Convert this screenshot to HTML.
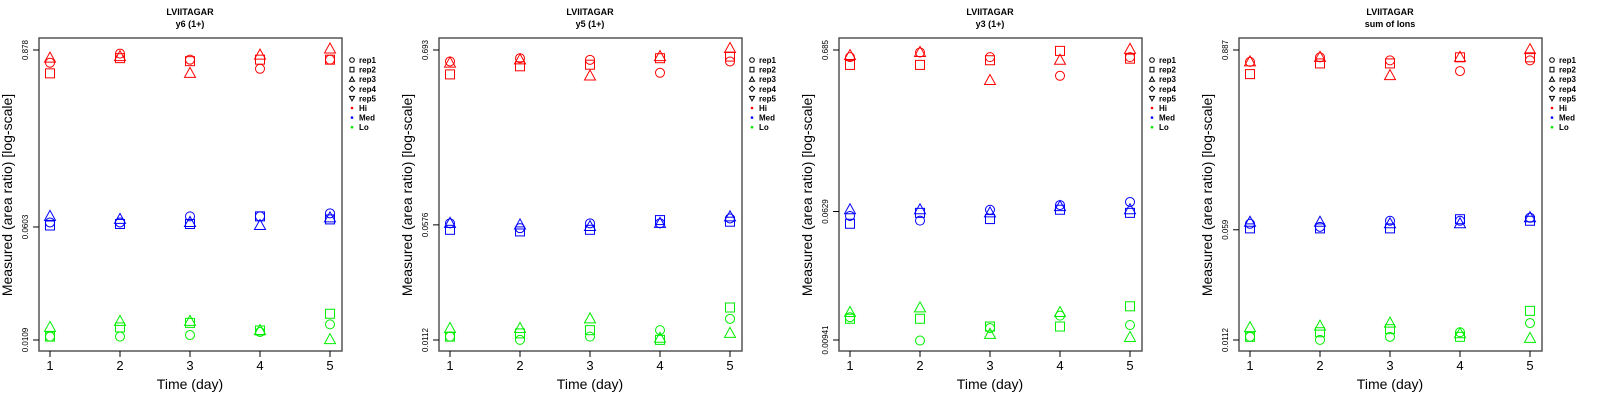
<!DOCTYPE html>
<html><head><meta charset="utf-8"><style>
html,body{margin:0;padding:0;background:#fff;}
svg{display:block;font-family:"Liberation Sans",sans-serif;}
</style></head><body>
<svg id="chart" width="1600" height="400" viewBox="0 0 1600 400" xmlns="http://www.w3.org/2000/svg"></svg>
<script>
// Data: log10 of measured area ratio, per panel, per level, per replicate, days 1..5
const days = [1, 2, 3, 4, 5];
const panelTitles = ["y6 (1+)", "y5 (1+)", "y3 (1+)", "sum of Ions"];
const peptide = "LVIITAGAR";
const tickLabels = [["0.878","0.0603","0.0109"],["0.693","0.0576","0.0112"],["0.685","0.0629","0.00941"],["0.887","0.059","0.0112"]];
const tickValues = [[0.878,0.0603,0.0109],[0.693,0.0576,0.0112],[0.685,0.0629,0.00941],[0.887,0.059,0.0112]];
const levels = ["Hi","Med","Lo"];
const reps = ["rep1","rep2","rep3","rep4","rep5"];
// panel 1
const p1Hi = [[-0.14,-0.08,-0.12,-0.18,-0.12],[-0.21,-0.11,-0.13,-0.12,-0.12],[-0.11,-0.10,-0.21,-0.09,-0.05]];
const p1Med = [[-1.19,-1.19,-1.15,-1.15,-1.13],[-1.21,-1.20,-1.20,-1.15,-1.17],[-1.15,-1.17,-1.19,-1.21,-1.16]];
const p1Lo = [[-1.94,-1.94,-1.93,-1.91,-1.86],[-1.94,-1.88,-1.85,-1.90,-1.79],[-1.88,-1.84,-1.84,-1.90,-1.96]];
// panel 2
const p2Hi = [[-0.23,-0.21,-0.22,-0.30,-0.23],[-0.31,-0.26,-0.25,-0.21,-0.20],[-0.24,-0.22,-0.32,-0.20,-0.15]];
const p2Med = [[-1.23,-1.26,-1.23,-1.23,-1.20],[-1.27,-1.28,-1.27,-1.21,-1.22],[-1.23,-1.24,-1.25,-1.23,-1.19]];
const p2Lo = [[-1.93,-1.95,-1.93,-1.89,-1.82],[-1.93,-1.91,-1.89,-1.95,-1.75],[-1.88,-1.88,-1.82,-1.94,-1.91]];
// panel 3
const p3Hi = [[-0.21,-0.18,-0.21,-0.33,-0.21],[-0.26,-0.26,-0.23,-0.17,-0.22],[-0.20,-0.18,-0.36,-0.23,-0.16]];
const p3Med = [[-1.23,-1.26,-1.19,-1.16,-1.14],[-1.28,-1.21,-1.25,-1.19,-1.21],[-1.19,-1.19,-1.21,-1.17,-1.19]];
const p3Lo = [[-1.88,-2.03,-1.95,-1.87,-1.93],[-1.89,-1.89,-1.94,-1.94,-1.81],[-1.85,-1.82,-1.99,-1.85,-2.01]];
// panel 4
const p4Hi = [[-0.13,-0.10,-0.12,-0.19,-0.12],[-0.21,-0.14,-0.14,-0.10,-0.10],[-0.13,-0.10,-0.22,-0.10,-0.05]];
const p4Med = [[-1.19,-1.21,-1.17,-1.17,-1.15],[-1.22,-1.22,-1.22,-1.16,-1.17],[-1.18,-1.18,-1.19,-1.19,-1.15]];
const p4Lo = [[-1.93,-1.95,-1.93,-1.90,-1.84],[-1.93,-1.90,-1.88,-1.93,-1.76],[-1.87,-1.86,-1.84,-1.91,-1.94]];

const panelData = [[p1Hi,p1Med,p1Lo],[p2Hi,p2Med,p2Lo],[p3Hi,p3Med,p3Lo],[p4Hi,p4Med,p4Lo]];
const colors = {Hi:"#ff0000", Med:"#0000ff", Lo:"#00ee00"};
const NS = "http://www.w3.org/2000/svg";
const svg = document.getElementById("chart");
function mk(tag, attrs, parent){const e=document.createElementNS(NS,tag);for(const k in attrs)e.setAttribute(k,attrs[k]);(parent||svg).appendChild(e);return e;}

const BOX = {x0:39, x1:342, y0:38, y1:351};
const TOP = 50, BOT = 340;

panelData.forEach((pd, pi) => {
  const ox = pi * 400;
  const g = mk("g", {transform:`translate(${ox},0)`});
  
  
  const lmax = Math.log10(tickValues[pi][0]), lmin = Math.log10(tickValues[pi][2]);
  const yScale = l => TOP + (lmax - l) / (lmax - lmin) * (BOT - TOP);
  const xScale = d => 50 + (d - 1) * 70;

  const t1 = mk("text", {x:190, y:15, "text-anchor":"middle", "font-size":"9", "font-weight":"bold"}, g);
  t1.textContent = peptide;
  
  
  const t2 = mk("text", {x:190, y:27, "text-anchor":"middle", "font-size":"9", "font-weight":"bold"}, g);
  t2.textContent = panelTitles[pi];
  
  

  const box = mk("rect", {x:BOX.x0, y:BOX.y0, width:BOX.x1-BOX.x0, height:BOX.y1-BOX.y0, fill:"none", stroke:"#555", "stroke-width":"1.5"}, g);
  
  

  days.forEach(d => {
    const x = xScale(d);
    const tk = mk("line", {x1:x, x2:x, y1:BOX.y1, y2:BOX.y1+6, stroke:"#000", "stroke-width":"1"}, g);
    
    
    const lb = mk("text", {x:x, y:370, "text-anchor":"middle", "font-size":"13"}, g);
    lb.textContent = d;
    
    
  });
  const xl = mk("text", {x:190, y:389, "text-anchor":"middle", "font-size":"14"}, g);
  xl.textContent = "Time (day)";
  
  

  tickValues[pi].forEach((v, i) => {
    const y = yScale(Math.log10(v));
    const tk = mk("line", {x1:BOX.x0-6, x2:BOX.x0, y1:y, y2:y, stroke:"#000", "stroke-width":"1"}, g);
    
    
    const lb = mk("text", {x:0, y:0, "text-anchor":"middle", "font-size":"8", transform:`translate(28,${y}) rotate(-90)`}, g);
    lb.textContent = tickLabels[pi][i];
    
    
  });
  const yl = mk("text", {x:0, y:0, "text-anchor":"middle", "font-size":"14", transform:"translate(12,195) rotate(-90)"}, g);
  yl.textContent = "Measured (area ratio) [log-scale]";
  
  

  pd.forEach((levelData, li) => {
    const col = colors[levels[li]];
    levelData.forEach((series, ri) => {
      series.forEach((l, di) => {
        const x = xScale(days[di]), y = yScale(l);
        let m;
        if (ri === 0) m = mk("circle", {cx:x, cy:y, r:4.5, fill:"none", stroke:col, "stroke-width":"1"}, g);
        else if (ri === 1) m = mk("rect", {x:x-4.5, y:y-4.5, width:9, height:9, fill:"none", stroke:col, "stroke-width":"1"}, g);
        else m = mk("polygon", {points:`${x},${y-6} ${x-5.5},${y+4} ${x+5.5},${y+4}`, fill:"none", stroke:col, "stroke-width":"1"}, g);
        
        
      });
    });
  });

  // legend
  const lg = mk("g", {}, g);
  
  
  const items = ["rep1","rep2","rep3","rep4","rep5","Hi","Med","Lo"];
  items.forEach((it, i) => {
    const y = 60 + i * 9.6;
    const sx = 352;
    let s;
    if (i === 0) s = mk("circle", {cx:sx, cy:y, r:2.3, fill:"none", stroke:"#000", "stroke-width":"1"}, lg);
    else if (i === 1) s = mk("rect", {x:sx-2, y:y-2.3, width:4, height:4.6, fill:"none", stroke:"#000", "stroke-width":"1"}, lg);
    else if (i === 2) s = mk("polygon", {points:`${sx},${y-2.5} ${sx-2.5},${y+2} ${sx+2.5},${y+2}`, fill:"none", stroke:"#000", "stroke-width":"1"}, lg);
    else if (i === 3) s = mk("polygon", {points:`${sx},${y-2.7} ${sx+2.7},${y} ${sx},${y+2.7} ${sx-2.7},${y}`, fill:"none", stroke:"#000", "stroke-width":"1"}, lg);
    else if (i === 4) s = mk("polygon", {points:`${sx},${y+2.5} ${sx-2.5},${y-2} ${sx+2.5},${y-2}`, fill:"none", stroke:"#000", "stroke-width":"1"}, lg);
    else s = mk("circle", {cx:sx, cy:y, r:1.3, fill:colors[it]}, lg);
    
    
    const t = mk("text", {x:359, y:y+3, "font-size":"8", "font-weight":"bold"}, lg);
    t.textContent = it;
    
    
  });
});
</script>
</body></html>
